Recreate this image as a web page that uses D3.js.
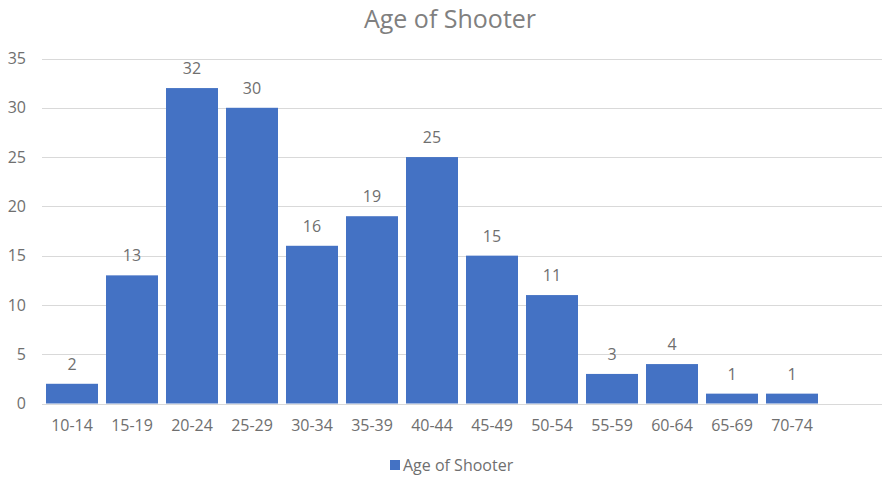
<!DOCTYPE html>
<meta charset="utf-8">
<style>
  body { margin: 0; background: #fff; }
  text { font-family: "Open Sans", "Liberation Sans", sans-serif; fill: #6f6f6f; }
</style>
<svg width="883" height="477"></svg>
<script src="https://d3js.org/d3.v7.min.js"></script>
<script>

var categories = ["10-14", "15-19", "20-24", "25-29", "30-34", "35-39", "40-44",
                  "45-49", "50-54", "55-59", "60-64", "65-69", "70-74"];
var counts = [2, 13, 32, 30, 16, 19, 25, 15, 11, 3, 4, 1, 1];
var yTicks = [0, 5, 10, 15, 20, 25, 30, 35];
var seriesName = "Age of Shooter";

var svg = d3.select("svg"),
    width = +svg.attr("width"),
    height = +svg.attr("height");

var margin = {top: 58.5, right: 1, bottom: 73.5, left: 42};

// one empty slot at the end, as in the original
var x = d3.scaleBand()
    .domain(categories.concat(["_"]))
    .range([margin.left, width - margin.right])
    .paddingInner(8 / 60)
    .paddingOuter(4 / 60);

var y = d3.scaleLinear()
    .domain([0, 35])
    .range([height - margin.bottom, margin.top]);

// grid
svg.append("g")
  .selectAll("line")
  .data(yTicks)
  .join("line")
    .attr("x1", margin.left)
    .attr("x2", width - margin.right)
    .attr("y1", d => Math.round(y(d)) + 0.5)
    .attr("y2", d => Math.round(y(d)) + 0.5)
    .attr("stroke", "#d9d9d9")
    .attr("stroke-width", 1);

// y tick labels
svg.append("g")
  .selectAll("text")
  .data(yTicks)
  .join("text")
    .attr("x", 26)
    .attr("y", d => y(d))
    .attr("dy", "0.35em")
    .attr("text-anchor", "end")
    .style("font-size", "16px")
    .text(d => d);

// bars
svg.append("g")
  .selectAll("rect")
  .data(counts)
  .join("rect")
    .attr("x", (d, i) => x(categories[i]))
    .attr("width", x.bandwidth())
    .attr("y", d => y(d))
    .attr("height", d => y(0) - y(d))
    .attr("fill", "#4472c4");

// value labels
svg.append("g")
  .selectAll("text")
  .data(counts)
  .join("text")
    .attr("x", (d, i) => x(categories[i]) + x.bandwidth() / 2)
    .attr("y", d => y(d) - 14)
    .attr("text-anchor", "middle")
    .style("font-size", "16px")
    .text(d => d);

// x tick labels
svg.append("g")
  .selectAll("text")
  .data(categories)
  .join("text")
    .attr("x", d => x(d) + x.bandwidth() / 2)
    .attr("y", height - margin.bottom + 27)
    .attr("text-anchor", "middle")
    .style("font-size", "16px")
    .text(d => d);

// title
svg.append("text")
    .attr("x", 450)
    .attr("y", 28)
    .attr("text-anchor", "middle")
    .style("font-size", "25px")
    .style("fill", "#808080")
    .text(seriesName);

// legend
var legend = svg.append("g").attr("transform", "translate(390,460)");
legend.append("rect")
    .attr("width", 10)
    .attr("height", 10)
    .attr("fill", "#4472c4");
legend.append("text")
    .attr("x", 13)
    .attr("y", 5)
    .attr("dy", "0.35em")
    .style("font-size", "16px")
    .text(seriesName);

</script>
